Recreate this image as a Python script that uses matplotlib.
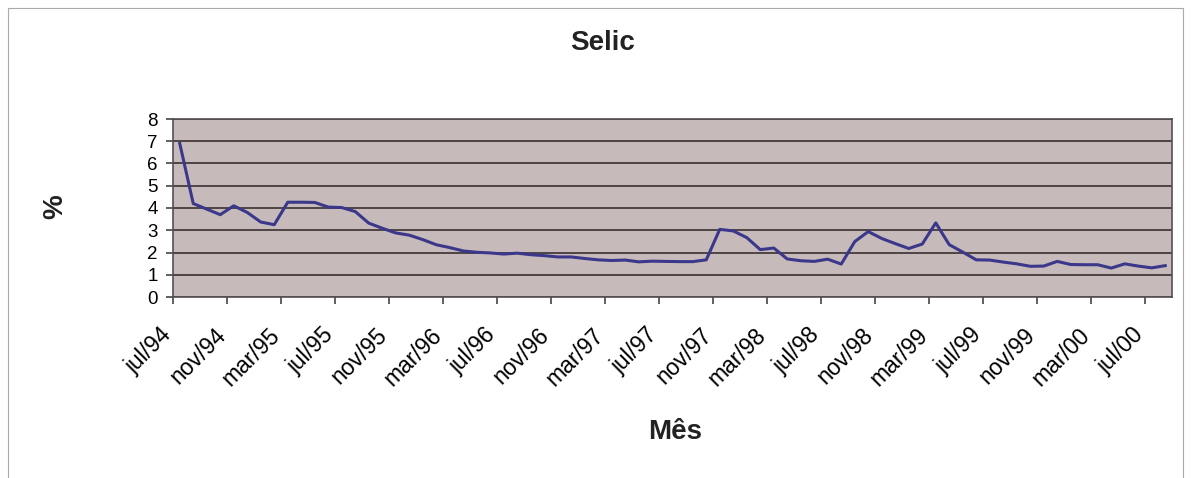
import matplotlib
matplotlib.use('Agg')
import matplotlib.pyplot as plt
import matplotlib.transforms as mtransforms
from matplotlib.patches import Rectangle

# Selic monthly rate (%), jul/94 .. aug/00
selic_94 = [6.90, 4.20, 3.95, 3.70, 4.10, 3.80]
selic_95 = [3.37, 3.25, 4.26, 4.26, 4.25, 4.04, 4.02, 3.84, 3.32, 3.09, 2.88, 2.78]
selic_96 = [2.58, 2.35, 2.22, 2.07, 2.01, 1.98, 1.93, 1.97, 1.90, 1.86, 1.80, 1.80]
selic_97 = [1.73, 1.67, 1.64, 1.66, 1.58, 1.61, 1.60, 1.59, 1.59, 1.67, 3.04, 2.97]
selic_98 = [2.67, 2.13, 2.20, 1.71, 1.63, 1.60, 1.70, 1.48, 2.49, 2.94, 2.63, 2.40]
selic_99 = [2.18, 2.38, 3.33, 2.35, 2.02, 1.67, 1.66, 1.57, 1.49, 1.38, 1.39, 1.60]
selic_00 = [1.46, 1.45, 1.45, 1.30, 1.49, 1.39, 1.31, 1.41]

selic = selic_94 + selic_95 + selic_96 + selic_97 + selic_98 + selic_99 + selic_00

tick_labels = ['jul/94', 'nov/94', 'mar/95', 'jul/95', 'nov/95', 'mar/96',
               'jul/96', 'nov/96', 'mar/97', 'jul/97', 'nov/97', 'mar/98',
               'jul/98', 'nov/98', 'mar/99', 'jul/99', 'nov/99', 'mar/00',
               'jul/00']

plt.rcParams['font.family'] = ['Liberation Sans', 'DejaVu Sans']

fig = plt.figure(figsize=(11.91, 4.78), dpi=100)
ax = fig.add_axes([173 / 1191, 1 - 297 / 478, (1172 - 173) / 1191, (297 - 119) / 478])

x = list(range(len(selic)))
ax.set_facecolor('#c6bbba')
ax.plot(x, selic, color='#3b378a', lw=2.2, zorder=3)

ax.set_xlim(-0.5, len(selic) - 0.5)
ax.set_ylim(0, 8)
ax.set_yticks(range(0, 9))
ax.yaxis.grid(True, color='#3a3030', lw=1.2)
ax.set_axisbelow(True)

ax.set_xticks([4 * k - 0.5 for k in range(len(tick_labels))])
ax.set_xticklabels(tick_labels, rotation=45, ha='right', va='center',
                   rotation_mode='anchor', fontsize=16.5)
ax.tick_params(axis='x', length=5, width=1.2, color='#444444', pad=20)
ax.tick_params(axis='y', length=5, width=1.2, color='#444444', labelsize=13.5, pad=6)

shift = mtransforms.ScaledTranslation(-5 / 100, 0, fig.dpi_scale_trans)
for lab in ax.get_xticklabels():
    lab.set_transform(lab.get_transform() + shift)

for s in ax.spines.values():
    s.set_color('#555050')
    s.set_linewidth(1.2)

fig.text(603 / 1191, 1 - 43 / 478, 'Selic', ha='center', va='center',
         fontsize=20, fontweight='bold', color='#222222')
fig.text(675 / 1191, 1 - 432 / 478, 'Mês', ha='center', va='center',
         fontsize=20, fontweight='bold', color='#222222')
fig.text(55 / 1191, 1 - 207 / 478, '%', ha='center', va='center', rotation=90,
         fontsize=20, fontweight='bold', color='#222222')

fig.patches.append(Rectangle((8 / 1191, -0.02), (1183 - 8) / 1191, 1 - 8 / 478 + 0.02,
                             transform=fig.transFigure, fill=False,
                             edgecolor='#aaaaaa', lw=0.8))

fig.savefig('out.png', dpi=100)
